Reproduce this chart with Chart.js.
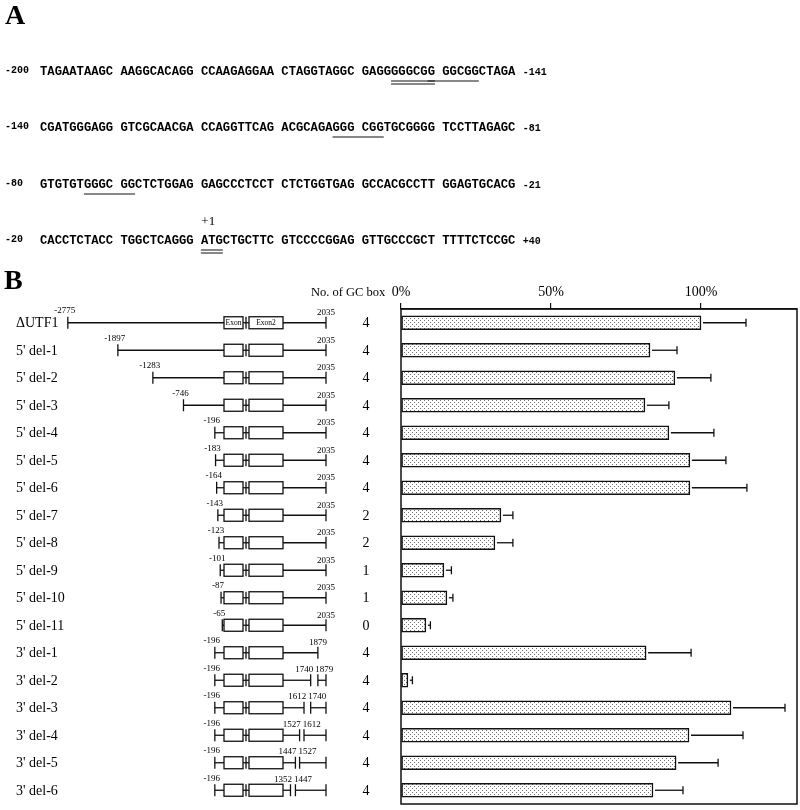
<!DOCTYPE html>
<html>
<head>
<meta charset="utf-8">
<script src="https://cdn.jsdelivr.net/npm/chart.js@4.4.1/dist/chart.umd.min.js"></script>
<style>
  html, body { margin: 0; padding: 0; background: #fff; }
  canvas { display: block; }
</style>
</head>
<body>
<canvas id="fig" width="800" height="810"></canvas>
<script>
// ---- panel B data ----
const rowNames = ['\u0394UTF1', "5' del-1", "5' del-2", "5' del-3", "5' del-4", "5' del-5", "5' del-6",
  "5' del-7", "5' del-8", "5' del-9", "5' del-10", "5' del-11",
  "3' del-1", "3' del-2", "3' del-3", "3' del-4", "3' del-5", "3' del-6"];
const gcBoxes = [4, 4, 4, 4, 4, 4, 4, 2, 2, 1, 1, 0, 4, 4, 4, 4, 4, 4];
const activity = [100, 83, 91.3, 81.3, 89.3, 96.3, 96.3, 33.3, 31.3, 14.3, 15.3, 8.3, 81.7, 2.3, 110, 96, 91.7, 84];
const activitySD = [15, 9, 12, 8, 15, 12, 19, 4, 6, 2.5, 2, 1.5, 15, 1.5, 18, 18, 14, 10];
const startPos = [-2775, -1897, -1283, -746, -196, -183, -164, -143, -123, -101, -87, -65, -196, -196, -196, -196, -196, -196];
const endPos = [2035, 2035, 2035, 2035, 2035, 2035, 2035, 2035, 2035, 2035, 2035, 2035, 1879, 2035, 2035, 2035, 2035, 2035];
const delFrom = [null, null, null, null, null, null, null, null, null, null, null, null, null, 1740, 1612, 1527, 1447, 1352];
const delTo = [null, null, null, null, null, null, null, null, null, null, null, null, null, 1879, 1740, 1612, 1527, 1447];
const xTicks = [0, 50, 100];

// ---- panel A sequence ----
const seqStart = ['-200', '-140', '-80', '-20'];
const seqEnd = ['-141', '-81', '-21', '+40'];
const seqLines = [
  'TAGAATAAGC AAGGCACAGG CCAAGAGGAA CTAGGTAGGC GAGGGGGCGG GGCGGCTAGA',
  'CGATGGGAGG GTCGCAACGA CCAGGTTCAG ACGCAGAGGG CGGTGCGGGG TCCTTAGAGC',
  'GTGTGTGGGC GGCTCTGGAG GAGCCCTCCT CTCTGGTGAG GCCACGCCTT GGAGTGCACG',
  'CACCTCTACC TGGCTCAGGG ATGCTGCTTC GTCCCCGGAG GTTGCCCGCT TTTTCTCCGC'
];
// [line, first char, last char, double]
const underlines = [[0, 48, 53, true], [0, 53, 59, false], [1, 40, 46, false], [2, 6, 12, false], [3, 22, 24, true]];

const SERIF = '"Liberation Serif", "Times New Roman", serif';
const MONO = '"Liberation Mono", "Courier New", monospace';

// schematic position of a site in the construct drawings
function siteX(pos) {
  return pos < 0 ? 226 + 0.057 * pos : 326 - 0.052 * (2035 - pos);
}

function stipple() {
  const c = document.createElement('canvas');
  c.width = 4; c.height = 4;
  const g = c.getContext('2d');
  g.fillStyle = '#fff'; g.fillRect(0, 0, 4, 4);
  g.fillStyle = '#707070';
  g.fillRect(0, 0, 1, 1); g.fillRect(2, 2, 1, 1);
  return g.createPattern(c, 'repeat');
}

function vtick(ctx, x, y, h) {
  ctx.beginPath(); ctx.moveTo(x, y - h); ctx.lineTo(x, y + h); ctx.stroke();
}
function hline(ctx, x1, x2, y) {
  ctx.beginPath(); ctx.moveTo(x1, y); ctx.lineTo(x2, y); ctx.stroke();
}

const figure = {
  id: 'figure',
  afterDraw(chart) {
    const ctx = chart.ctx, area = chart.chartArea;
    const xs = chart.scales.x, ys = chart.scales.y;
    ctx.save();
    ctx.fillStyle = '#000';
    ctx.strokeStyle = '#111';

    // frame
    ctx.lineWidth = 1.5;
    ctx.strokeRect(area.left, area.top, area.right - area.left, area.bottom - area.top);

    // error bars (upper side only)
    ctx.lineWidth = 1.3;
    chart.getDatasetMeta(0).data.forEach((bar, i) => {
      const xe = xs.getPixelForValue(activity[i] + activitySD[i]);
      hline(ctx, bar.x + 2, xe, bar.y);
      vtick(ctx, xe, bar.y, 4);
    });

    // panel letters
    ctx.textBaseline = 'middle';
    ctx.textAlign = 'left';
    ctx.font = 'bold 28px ' + SERIF;
    ctx.fillText('A', 5, 17);
    ctx.fillText('B', 4, 282);

    // sequence
    const seqFont = 'bold 12.2px ' + MONO;
    ctx.font = seqFont;
    const cw = ctx.measureText('A').width;
    const lineY = [72, 128, 185, 241];
    seqLines.forEach((s, k) => {
      ctx.font = seqFont;
      ctx.fillText(s, 40, lineY[k]);
      ctx.font = 'bold 10px ' + MONO;
      ctx.fillText(seqStart[k], 5, lineY[k] - 2);
      ctx.fillText(seqEnd[k], 40 + (s.length + 1) * cw, lineY[k]);
    });
    ctx.lineWidth = 1;
    underlines.forEach(([k, a, b, dbl]) => {
      const x1 = 40 + a * cw, x2 = 40 + (b + 1) * cw;
      hline(ctx, x1, x2, lineY[k] + 9);
      if (dbl) hline(ctx, x1, x2, lineY[k] + 12);
    });
    ctx.textAlign = 'center';
    ctx.font = '13px ' + SERIF;
    ctx.fillText('+1', 40 + 23 * cw, 222);

    // panel B left part
    ctx.textAlign = 'left';
    ctx.font = '12.5px ' + SERIF;
    ctx.fillText('No. of GC box', 311, 293);

    rowNames.forEach((name, i) => {
      const yc = ys.getPixelForValue(i);
      ctx.textAlign = 'left';
      ctx.font = '14px ' + SERIF;
      ctx.fillText(name, 16, yc + 1);
      ctx.textAlign = 'center';
      ctx.fillText(String(gcBoxes[i]), 366, yc + 1);

      // construct drawing
      ctx.lineWidth = 1.3;
      const x0 = siteX(startPos[i]), x1 = siteX(endPos[i]);
      vtick(ctx, x0, yc, 6);
      if (x0 < 224) hline(ctx, x0, 224, yc);
      ctx.strokeRect(224, yc - 6, 19, 12);
      hline(ctx, 243, 249, yc);
      vtick(ctx, 246, yc, 6);
      ctx.strokeRect(249, yc - 6, 34, 12);
      if (delFrom[i] !== null) {
        const xf = siteX(delFrom[i]), xt = siteX(delTo[i]);
        hline(ctx, 283, xf, yc); vtick(ctx, xf, yc, 6);
        vtick(ctx, xt, yc, 6); hline(ctx, xt, x1, yc);
      } else {
        hline(ctx, 283, x1, yc);
      }
      vtick(ctx, x1, yc, 6);

      ctx.font = '9px ' + SERIF;
      ctx.textAlign = 'center';
      ctx.fillText(String(startPos[i]), x0 - 3, yc - 12);
      if (delFrom[i] !== null) {
        const mid = (siteX(delFrom[i]) + siteX(delTo[i])) / 2;
        ctx.textAlign = 'right';
        ctx.fillText(String(delFrom[i]), mid - 1, yc - 11);
        ctx.textAlign = 'left';
        ctx.fillText(String(delTo[i]), mid + 1, yc - 11);
      } else {
        ctx.fillText(String(endPos[i]), x1, yc - 10);
      }
      if (i === 0) {
        ctx.font = '7.5px ' + SERIF;
        ctx.fillText('Exon', 233.5, yc);
        ctx.fillText('Exon2', 266, yc);
      }
    });
    ctx.restore();
  }
};

new Chart(document.getElementById('fig'), {
  type: 'bar',
  data: {
    labels: rowNames,
    datasets: [{
      data: activity,
      backgroundColor: stipple(),
      borderColor: '#111',
      borderWidth: 1.5,
      borderSkipped: false,
      barThickness: 14
    }]
  },
  options: {
    indexAxis: 'y',
    responsive: false,
    animation: false,
    layout: { padding: { left: 401, right: 3, top: 279, bottom: 6 } },
    plugins: { legend: { display: false }, tooltip: { enabled: false } },
    scales: {
      x: {
        position: 'top',
        min: 0,
        max: 132,
        afterBuildTicks: s => { s.ticks = xTicks.map(v => ({ value: v })); },
        afterFit: s => { s.height = 30; s.paddingLeft = 0; s.paddingRight = 0; },
        grid: { drawOnChartArea: false, drawTicks: true, tickLength: 6, color: '#111', lineWidth: 1.2 },
        border: { display: true, color: '#111', width: 1.5 },
        ticks: {
          padding: 2,
          color: '#000',
          font: { family: 'Liberation Serif', size: 14 },
          callback: v => v + '%'
        }
      },
      y: { display: false }
    }
  },
  plugins: [figure]
});
</script>
</body>
</html>
